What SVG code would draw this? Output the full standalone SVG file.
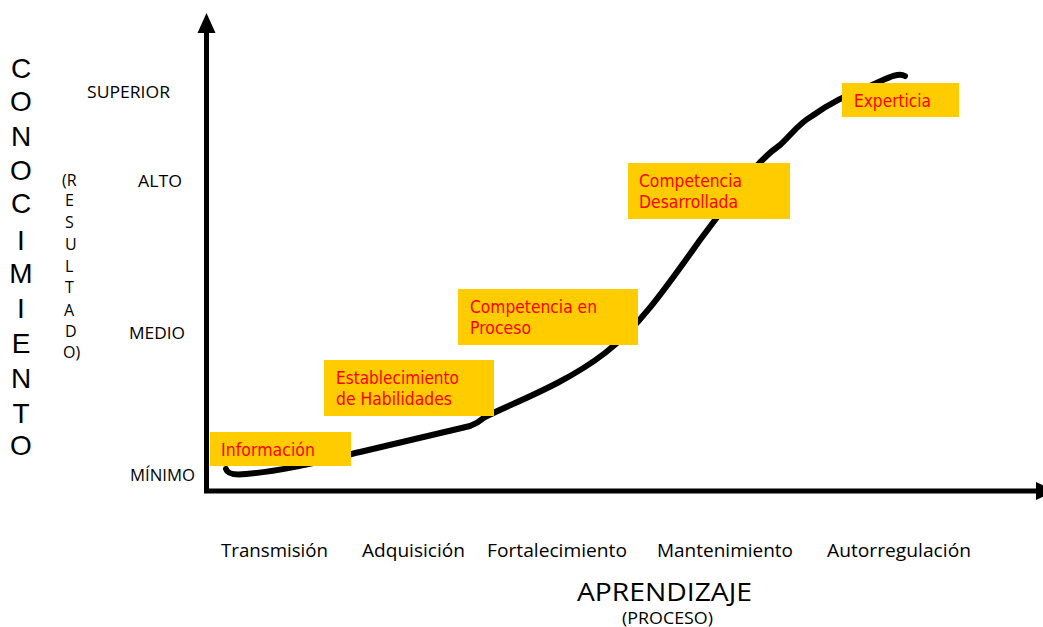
<svg xmlns="http://www.w3.org/2000/svg" width="1043" height="627" viewBox="0 0 1043 627">
<style>
.ax{font-family:"Open Sans","Liberation Sans",sans-serif;fill:#000;}
.big{font-family:"Liberation Sans","Open Sans",sans-serif;font-size:28px;text-anchor:middle;}
.res{font-size:16px;}
.lvl{font-size:16px;}
.stage{font-size:19px;}
.box rect{fill:#FFCC00;}
.box text{font-family:"DejaVu Sans","Liberation Sans",sans-serif;font-size:17px;fill:#FF0000;}
</style>
<rect width="1043" height="627" fill="#fff"/>
<g id="connectors">
<path id="curve" d="M226,469 Q228,476 246,474 C285,471 325,460 360,452 L470,426 Q478,423 485,417 C515,402 565,384 605,353 C640,326 670,282 700,240 L745,180 C760,160 770,152 780,145 C792,134 798,124 812,116 C830,103 848,94 870,86 C888,78 898,72 905,76" fill="none" stroke="#000" stroke-width="6" stroke-linecap="round" stroke-linejoin="round"/>
<path id="y-axis" d="M206.5,493 V30" fill="none" stroke="#000" stroke-width="5"/>
<polygon points="206.5,13 197.5,33 215.5,33" fill="#000"/>
<path id="x-axis" d="M204,491 H1038" fill="none" stroke="#000" stroke-width="5"/>
<polygon points="1036,482 1036,500 1056,491" fill="#000"/>
</g>
<g id="n-informacion" class="box"><rect x="210" y="432" width="141" height="34"/><text x="221" y="456" textLength="94" lengthAdjust="spacingAndGlyphs">Información</text></g>
<g id="n-establecimiento" class="box"><rect x="324" y="360" width="170" height="56"/><text x="336" y="384" textLength="123" lengthAdjust="spacingAndGlyphs">Establecimiento</text><text x="336" y="405" textLength="116" lengthAdjust="spacingAndGlyphs">de Habilidades</text></g>
<g id="n-proceso" class="box"><rect x="458" y="289" width="180" height="56"/><text x="470" y="313" textLength="127" lengthAdjust="spacingAndGlyphs">Competencia en</text><text x="470" y="334" textLength="61" lengthAdjust="spacingAndGlyphs">Proceso</text></g>
<g id="n-desarrollada" class="box"><rect x="628" y="163" width="162" height="56"/><text x="639" y="187" textLength="103" lengthAdjust="spacingAndGlyphs">Competencia</text><text x="639" y="208" textLength="99" lengthAdjust="spacingAndGlyphs">Desarrollada</text></g>
<g id="n-experticia" class="box"><rect x="842" y="83" width="117" height="34"/><text x="854" y="107" textLength="77" lengthAdjust="spacingAndGlyphs">Experticia</text></g>
<g id="y-title" class="ax big">
<text x="21" y="78">C</text><text x="21" y="111">O</text><text x="21" y="146">N</text><text x="21" y="180">O</text><text x="21" y="213">C</text><text x="21" y="250">I</text><text x="21" y="283">M</text><text x="21" y="318">I</text><text x="21" y="353">E</text><text x="21" y="388">N</text><text x="21" y="423">T</text><text x="21" y="455">O</text>
</g>
<g id="y-subtitle" class="ax res">
<text x="62" y="186">(R</text><text x="65" y="206">E</text><text x="65" y="228">S</text><text x="65" y="250">U</text><text x="65" y="272">L</text><text x="65" y="293">T</text><text x="64" y="316">A</text><text x="65" y="337">D</text><text x="63" y="358">O)</text>
</g>
<g id="y-levels" class="ax lvl">
<text x="87" y="98" textLength="83" lengthAdjust="spacingAndGlyphs">SUPERIOR</text>
<text x="138" y="187" textLength="44" lengthAdjust="spacingAndGlyphs">ALTO</text>
<text x="129" y="339" textLength="56" lengthAdjust="spacingAndGlyphs">MEDIO</text>
<text x="130" y="481" textLength="65" lengthAdjust="spacingAndGlyphs">MÍNIMO</text>
</g>
<g id="x-stages" class="ax stage">
<text x="221" y="557" textLength="107" lengthAdjust="spacingAndGlyphs">Transmisión</text>
<text x="362" y="557" textLength="103" lengthAdjust="spacingAndGlyphs">Adquisición</text>
<text x="487" y="557" textLength="140" lengthAdjust="spacingAndGlyphs">Fortalecimiento</text>
<text x="657" y="557" textLength="136" lengthAdjust="spacingAndGlyphs">Mantenimiento</text>
<text x="827" y="557" textLength="144" lengthAdjust="spacingAndGlyphs">Autorregulación</text>
</g>
<g id="x-title" class="ax">
<text x="577" y="601" font-size="26" textLength="175" lengthAdjust="spacingAndGlyphs">APRENDIZAJE</text>
<text x="622" y="624" font-size="16" textLength="91" lengthAdjust="spacingAndGlyphs">(PROCESO)</text>
</g>
</svg>
